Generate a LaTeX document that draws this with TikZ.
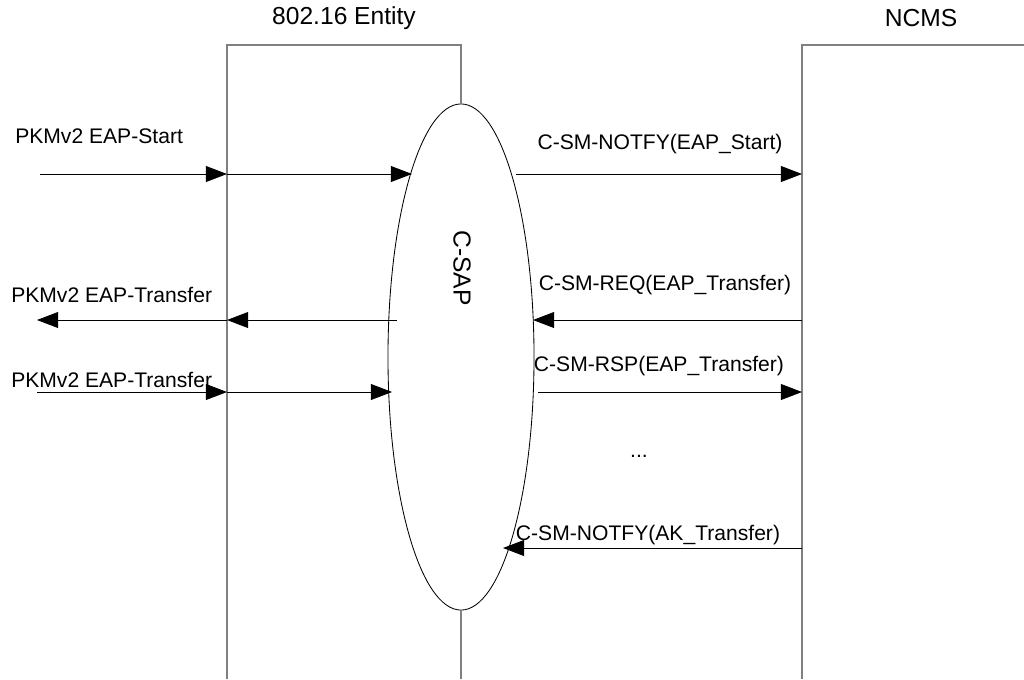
\documentclass[tikz,border=0pt]{standalone}
\usepackage{fontspec}
\setmainfont{Liberation Sans}
\usepackage{tikz}
\usetikzlibrary{arrows.meta, shapes.geometric, positioning}
\definecolor{linegray}{RGB}{128,128,128}
\tikzset{
  lifeline/.style={draw=linegray, line width=1pt},
  msg/.style={-{Triangle[length=0.53cm, width=0.4cm]}, line width=0.6pt, color=black},
  lbl/.style={font=\fontsize{15}{18}\selectfont, inner sep=0pt},
  hdr/.style={font=\fontsize{17.5}{21}\selectfont, inner sep=0pt},
  sap/.style={ellipse, draw, line width=0.6pt, minimum width=3.65cm,
    minimum height=12.65cm, inner sep=0pt, outer sep=0pt}
}

\begin{document}
\begin{tikzpicture}[x=0.025cm, y=-0.025cm]
  \useasboundingbox (0,0) rectangle (1024,679);

  % Headers
  \node[hdr] (enthdr) at (344,18) {802.16 Entity};
  \node[hdr] (ncmshdr) at (921,18) {NCMS};

  % Service access point
  \node[sap] (csap) at (461,357) {};
  \node[hdr, rotate=-90] (csaplbl) at (462,268) {C-SAP};

  % Entity and NCMS boxes
  \coordinate (entL) at (227,45);
  \coordinate (entR) at (461,45);
  \coordinate (ncmsL) at (802,45);
  \draw[lifeline] (entL |- 0,679) -- (entL) -- (entR) -- (csap.north);
  \draw[lifeline] (csap.south) -- (csap.south |- 0,679);
  \draw[lifeline] (ncmsL |- 0,679) -- (ncmsL) -- (1024,45);

  % Labels
  \node[lbl, anchor=west] (l1) at (15,136) {PKMv2 EAP-Start};
  \node[lbl] (l2) at (660,144) {C-SM-NOTFY(EAP\_Start)};
  \node[lbl] (l3) at (665,285) {C-SM-REQ(EAP\_Transfer)};
  \node[lbl, anchor=west] (l4) at (11,295) {PKMv2 EAP-Transfer};
  \node[lbl, anchor=west] (l5) at (11,380) {PKMv2 EAP-Transfer};
  \node[lbl] (l6) at (659,366) {C-SM-RSP(EAP\_Transfer)};
  \node[lbl] (l7) at (639,456) {...};
  \node[lbl] (l8) at (648,535) {C-SM-NOTFY(AK\_Transfer)};

  % Message end points
  \coordinate (s0) at (40,174);  \coordinate (s1) at (412,174); \coordinate (s2) at (516,174);
  \coordinate (q0) at (37,320);  \coordinate (q1) at (397,320); \coordinate (q2) at (533,320);
  \coordinate (p0) at (37,392);  \coordinate (p1) at (392,392); \coordinate (p2) at (538,392);
  \coordinate (n0) at (503,548);

  % Connections
  \draw[msg] (s0) -- (entL |- s0);
  \draw[msg] (entL |- s0) -- (s1);
  \draw[msg] (s2) -- (ncmsL |- s2);

  \draw[msg] (ncmsL |- q2) -- (q2);
  \draw[msg] (q1) -- (entL |- q1);
  \draw[msg] (entL |- q0) -- (q0);

  \draw[msg] (p0) -- (entL |- p0);
  \draw[msg] (entL |- p0) -- (p1);
  \draw[msg] (p2) -- (ncmsL |- p2);

  \draw[msg] (ncmsL |- n0) -- (n0);
\end{tikzpicture}
\end{document}
